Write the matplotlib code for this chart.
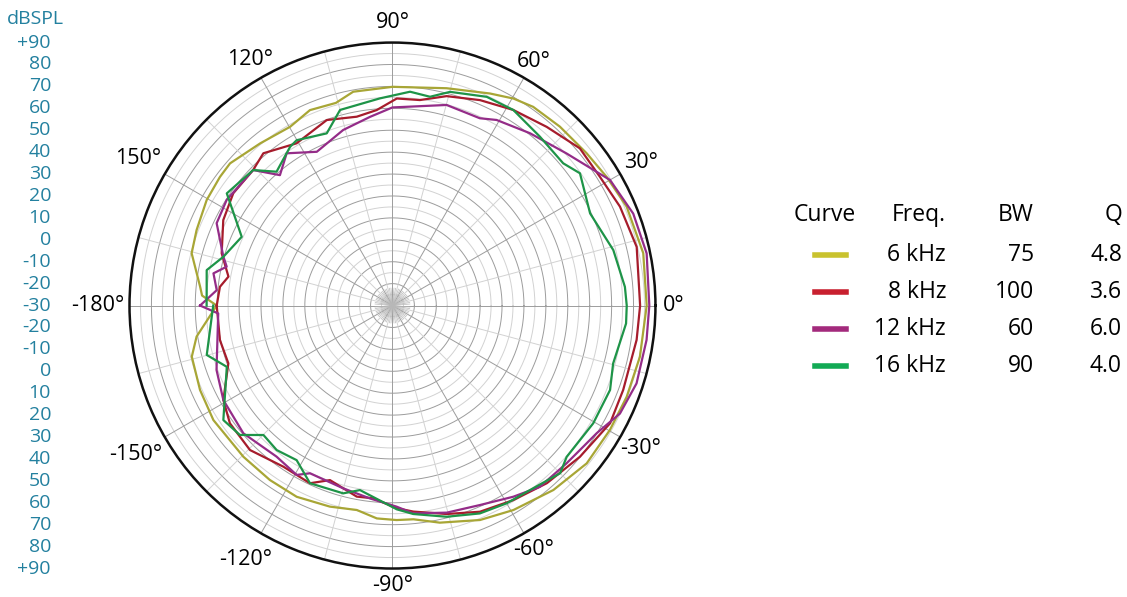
import numpy as np
import matplotlib.pyplot as plt
from matplotlib.transforms import blended_transform_factory

plt.rcParams['font.family'] = ['Open Sans', 'DejaVu Sans']

# ---------------- data (angle in deg, level in dBSPL) ----------------
ang_6k = [-180, -171, -165.7, -156.3, -147.4, -134.6, -125.1, -116.6, -107.3, -99.9, -94.2, -88.9,
          -84.4, -77.7, -67.8, -59.4, -48.9, -39.1, -29.8, -21.3, -11.7, 0, 11.8, 22.9, 31, 38.1,
          46.9, 54.7, 59.7, 65.3, 76, 90, 100.4, 105.6, 112.9, 119.8, 129.2, 138.8, 143.3, 150.4,
          158.9, 165.4, 174.4, 177, 180]
db_6k = [50.2, 60.5, 64.5, 65.9, 67.0, 66.9, 67.3, 67.6, 66.1, 64.7, 67.4, 67.9,
         68.0, 71.4, 75.7, 78.4, 81.7, 84.2, 84.3, 84.7, 85.3, 86.0, 86.9, 86.0, 84.0, 82.6,
         81.8, 81.1, 79.4, 76.5, 72.2, 69.8, 69.2, 66.0, 66.8, 64.0, 65.5, 68.5, 68.2, 67.5,
         65.8, 64.7, 58.2, 57.0, 50.2]

ang_8k = [-180, -168.7, -160.6, -150.8, -144.1, -134.6, -124.1, -114.9, -109.7, -100.6, -95.7, -88.8,
          -84.2, -75.4, -67, -58.2, -49, -38.9, -28.4, -20.1, -8, 0, 13.5, 23.5, 31.8, 40, 49.2,
          58.3, 66.9, 75.5, 82.4, 88.8, 94.6, 100.7, 109.5, 120.6, 130.3, 135.8, 144.8, 153.2,
          163, 170, 173.8, 180]
db_8k = [50.2, 50.3, 49.4, 58.4, 61.6, 62.6, 58.8, 59.4, 54.6, 58.7, 58.4, 62.5,
         64.5, 68.3, 72.2, 74.5, 77.4, 79.9, 82.9, 82.1, 82.5, 83.0, 84.6, 83.2, 81.4, 81.6, 77.7,
         74.9, 71.9, 68.7, 64.6, 64.5, 59.5, 57.7, 59.8, 56.0, 61.1, 58.7, 58.9, 56.5,
         51.5, 46.0, 49.2, 50.2]

ang_12k = [-180, -177.4, -159.9, -150.8, -139.4, -127.5, -119.5, -116.2, -105, -96.7, -88.8,
           -84.3, -75.3, -66.3, -57.7, -50.9, -42.2, -37.6, -32, -25.4, -17.7, -7.7, 0, 11.6,
           20.9, 30, 41.1, 51.4, 60.7, 65, 74.9, 90, 96.8, 105.7, 116.2, 124.8, 130.8, 135.8,
           147.5, 154.9, 163.9, 166.8, 169.8, 175, 180]
db_12k = [57.8, 49.6, 55.5, 58.4, 59.6, 56.9, 58.8, 55.3, 56.4, 58.6, 61.8,
          65.3, 67.7, 69.4, 73.2, 76.6, 77.2, 78.0, 79.9, 84.9, 86.9, 87.0, 87.2, 88.4,
          87.6, 84.6, 75.5, 70.6, 67.1, 64.3, 64.8, 60.4, 56.7, 53.2, 48.2, 54.6, 48.6, 58.7,
          59.7, 58.6, 50.3, 47.7, 53.0, 50.5, 57.8]

ang_16k = [-180, -165.1, -159.7, -145.9, -139.7, -134.9, -128.7, -121.8, -114.9, -104.7, -100,
           -88.8, -84.3, -75.6, -67.2, -60, -53.3, -45, -41, -35.6, -30.4, -21.2, -14.7, -4.4, 0,
           4.6, 14.1, 25, 35.2, 39.8, 48.9, 58.3, 65.7, 74.9, 79.8, 85.3, 93.5, 105, 110.9, 120.1,
           122.8, 130.9, 135.8, 145.9, 155.5, 163.9, 169.2, 180]
db_16k = [51.8, 57.7, 50.6, 63.2, 61.3, 53.4, 54.5, 53.0, 59.4, 58.6, 55.5,
          63.0, 65.6, 69.5, 72.9, 74.2, 75.0, 78.2, 75.3, 75.3, 76.2, 76.5, 74.1, 76.9, 76.9,
          76.4, 73.9, 69.5, 74.7, 71.4, 72.3, 74.9, 74.5, 71.0, 66.8, 67.9, 64.7, 62.4, 54.1, 57.2,
          56.2, 50.8, 58.7, 61.3, 45.6, 50.3, 56.3, 54.8]

curve_freq = ['6 kHz', '8 kHz', '12 kHz', '16 kHz']
curve_bw = ['75', '100', '60', '90']
curve_q = ['4.8', '3.6', '6.0', '4.0']
line_col = ['#a8a636', '#a61c2c', '#942c88', '#1e9448']
key_col = ['#c9c22e', '#c8202f', '#a32a7c', '#12aa55']

theta_ticks = [0, 30, 60, 90, 120, 150, 180, 210, 240, 270, 300, 330]
theta_labels = ['0°', '30°', '60°', '90°', '120°', '150°', '-180°',
                '-150°', '-120°', '-90°', '-60°', '-30°']
left_ticks = [90, 80, 70, 60, 50, 40, 30, 20, 10, 0, -10, -20]

# ---------------- figure ----------------
fig = plt.figure(figsize=(11.27, 5.97), dpi=100)
ax = fig.add_axes([0.1149, 0.0477, 0.4667, 0.881], projection='polar')
ax.set_ylim(-30, 90)
ax.set_theta_zero_location('E')
ax.set_theta_direction(1)

ax.grid(False)
ax.set_yticks([])
ax.set_xticks([])
ax.spines['polar'].set_linewidth(1.8)
ax.spines['polar'].set_color('#111111')

# angle labels outside the rim (distance from rim in px)
lab_gap = [18.5, 23.5, 19, 20.5, 21, 31, 32, 34, 30, 16.5, 19, 23.5]
for a, lab, g in zip(theta_ticks, theta_labels, lab_gap):
    th = np.deg2rad(a)
    ax.annotate(lab, xy=(th, 90), xytext=(g*0.72*np.cos(th), g*0.72*np.sin(th)),
                textcoords='offset points', ha='center', va='center', fontsize=15.5,
                annotation_clip=False)

# grid rings: 5 dB steps, darker every 10
t = np.linspace(0, 2*np.pi, 400)
for r in range(-25, 90, 5):
    c = '#9c9c9c' if r % 10 == 0 else '#d2d2d2'
    ax.plot(t, np.full_like(t, r), color=c, lw=0.7, zorder=1)
# spokes
for a in range(0, 360, 15):
    c = '#9c9c9c' if a % 30 == 0 else '#d2d2d2'
    ax.plot([np.deg2rad(a)]*2, [-30, 90], color=c, lw=0.7, zorder=1)
for a in range(0, 360, 5):
    if a % 15:
        ax.plot([np.deg2rad(a)]*2, [-30, -22], color='#b8b8b8', lw=0.5, zorder=1)

for angs, dbs, c in zip([ang_6k, ang_8k, ang_12k, ang_16k],
                        [db_6k, db_8k, db_12k, db_16k], line_col):
    ax.plot(np.deg2rad(angs), dbs, color=c, lw=1.6, zorder=3)

# left dB scale
tr = blended_transform_factory(fig.transFigure, ax.transAxes)
vals = left_ticks + [-30]
for v in vals:
    yf = 0.5 + 0.5 * (v + 30) / 120
    lab = '+90' if v == 90 else str(v)
    ax.text(51/1127, yf, lab, transform=tr, ha='right', va='center', fontsize=14, color='#23809f')
    if v != -30:
        ax.text(51/1127, 1 - yf, lab, transform=tr, ha='right', va='center', fontsize=14, color='#23809f')
fig.text(7/1127, 1 - 19/597, 'dBSPL', ha='left', va='center', fontsize=14, color='#23809f')

# legend table
def fx(px):
    return px/1127

def fy(py):
    return 1 - py/597

fs = 16.5
fig.text(fx(794), fy(215), 'Curve', ha='left', va='center', fontsize=fs)
fig.text(fx(946), fy(215), 'Freq.', ha='right', va='center', fontsize=fs)
fig.text(fx(1034), fy(215), 'BW', ha='right', va='center', fontsize=fs)
fig.text(fx(1122), fy(215), 'Q', ha='right', va='center', fontsize=fs)
for i in range(4):
    y = fy(255 + i*37)
    fig.add_artist(plt.Line2D([fx(815), fx(846)], [y, y], color=key_col[i], lw=4,
                              transform=fig.transFigure))
    fig.text(fx(946), y, curve_freq[i], ha='right', va='center', fontsize=fs)
    fig.text(fx(1034), y, curve_bw[i], ha='right', va='center', fontsize=fs)
    fig.text(fx(1122), y, curve_q[i], ha='right', va='center', fontsize=fs)

fig.savefig('out.png', dpi=100)
